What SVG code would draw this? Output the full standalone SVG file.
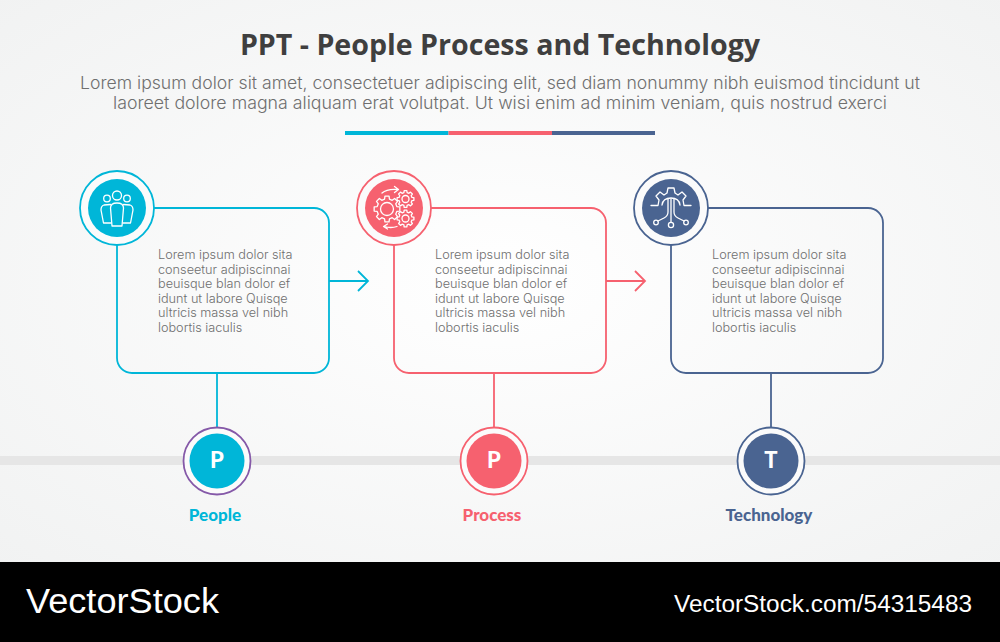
<svg xmlns="http://www.w3.org/2000/svg" width="1000" height="642" viewBox="0 0 1000 642">
<style>
.ttl{font:700 28.600px "Open Sans","Liberation Sans",sans-serif;fill:#3f3f3f;text-anchor:middle}
.sub{font:300 17px Inter,"Open Sans",sans-serif;fill:#6f6f6f;text-anchor:middle}
.body{font:300 12.700px Inter,"Open Sans",sans-serif;fill:#6f6f6f}
.lab{font:900 17px Lato,"Open Sans",sans-serif;text-anchor:middle}
.let{font:900 22px Lato,"Open Sans",sans-serif;fill:#fff;text-anchor:middle}
.wm{font-family:"Liberation Sans",Arimo,sans-serif;fill:#fff}
.box,.ring,.con{fill:none;stroke-width:1.800}
.ring{fill:#fbfbfb}
.ic{fill:none;stroke:#fff;stroke-width:1.300;stroke-linejoin:round;stroke-linecap:round}
.gp{vector-effect:non-scaling-stroke}
</style>
<defs>
<radialGradient id="bg" cx="50%" cy="50%" r="72%"><stop offset="0" stop-color="#ffffff"/><stop offset="1" stop-color="#f1f2f2"/></radialGradient>
<polygon id="gear" class="gp" points=".757,-.189 .988,-.156 .988,.156 .757,.189 .669,.402 .809,.588 .588,.809 .402,.669 .189,.757 .156,.988 -.156,.988 -.189,.757 -.402,.669 -.588,.809 -.809,.588 -.669,.402 -.757,.189 -.988,.156 -.988,-.156 -.757,-.189 -.669,-.402 -.809,-.588 -.588,-.809 -.402,-.669 -.189,-.757 -.156,-.988 .156,-.988 .189,-.757 .402,-.669 .588,-.809 .809,-.588 .669,-.402"/>
</defs>
<rect width="1000" height="562" fill="url(#bg)"/>
<text class="ttl" x="500" y="55">PPT - People Process and Technology</text>
<text class="sub" x="500" y="89" textLength="840" lengthAdjust="spacingAndGlyphs">Lorem ipsum dolor sit amet, consectetuer adipiscing elit, sed diam nonummy nibh euismod tincidunt ut</text>
<text class="sub" x="500" y="109" textLength="774" lengthAdjust="spacingAndGlyphs">laoreet dolore magna aliquam erat volutpat. Ut wisi enim ad minim veniam, quis nostrud exerci</text>
<rect x="345" y="131" width="103.500" height="4" fill="#00b6d8"/>
<rect x="448.500" y="131" width="103.500" height="4" fill="#f6616f"/>
<rect x="552" y="131" width="103" height="4" fill="#4a6491"/>
<rect id="timeline" x="0" y="456" width="1000" height="9" fill="#e6e6e6"/>
<g id="connectors">
<path class="con" stroke="#00b6d8" d="M329 281H367.500M358 271L368 281L358 291"/>
<path class="con" stroke="#f6616f" d="M606 281H644.500M635 271L645 281L635 291"/>
<path class="con" stroke="#00b6d8" d="M217 373V428"/>
<path class="con" stroke="#f6616f" d="M494 373V428"/>
<path class="con" stroke="#4a6491" d="M771 373V428"/>
</g>
<g id="people">
<rect class="box" stroke="#00b6d8" x="117" y="208" width="212" height="165" rx="15"/>
<circle class="ring" stroke="#00b6d8" cx="117" cy="208" r="37"/>
<circle cx="117" cy="208" r="29" fill="#00b6d8"/>
<g class="ic">
<circle cx="117" cy="195.500" r="4.500"/><circle cx="107" cy="198.500" r="3.300"/><circle cx="127" cy="198.500" r="3.300"/>
<path d="M110.500 204.500L104 205Q101 206 101 210L103.500 223H111M123.500 204.500L130 205Q133 206 133 210L130.500 223H123"/>
<path d="M110.500 208Q110.500 203 117 203Q123.500 203 123.500 208L122 226H112Z"/>
</g>
<text class="body" x="158" y="259">Lorem ipsum dolor sita</text>
<text class="body" x="158" y="273.500">conseetur adipiscinnai</text>
<text class="body" x="158" y="288">beuisque blan dolor ef</text>
<text class="body" x="158" y="302.500">idunt ut labore Quisqe</text>
<text class="body" x="158" y="317">ultricis massa vel nibh</text>
<text class="body" x="158" y="331.500">lobortis iaculis</text>
<circle cx="217" cy="461" r="33.500" fill="#fbfbfb" stroke="#8559a8" stroke-width="1.800"/>
<circle cx="217" cy="461" r="27.500" fill="#00b6d8"/>
<text class="let" x="217" y="468">P</text>
<text class="lab" x="215" y="520.500" fill="#00b6d8">People</text>
</g>
<g id="process">
<rect class="box" stroke="#f6616f" x="394" y="208" width="212" height="165" rx="15"/>
<circle class="ring" stroke="#f6616f" cx="394" cy="208" r="37"/>
<circle cx="394" cy="208" r="29" fill="#f6616f"/>
<g class="ic">
<use href="#gear" transform="translate(387 209) scale(13)"/>
<circle cx="387" cy="209" r="6.500"/>
<use href="#gear" transform="translate(405.500 199) scale(8.500)"/>
<circle cx="405.500" cy="199" r="3.500"/>
<use href="#gear" transform="translate(405.500 218.500) scale(8.500)"/>
<circle cx="405.500" cy="218.500" r="3.500"/>
<path d="M382 193Q387 188.500 398 189.500M394.500 186.500L398.500 189.500L394.500 192.500"/>
<path d="M397 226.500Q391 228.500 384 226.500M387.500 224L383.500 226.500L387.500 229"/>
</g>
<text class="body" x="435" y="259">Lorem ipsum dolor sita</text>
<text class="body" x="435" y="273.500">conseetur adipiscinnai</text>
<text class="body" x="435" y="288">beuisque blan dolor ef</text>
<text class="body" x="435" y="302.500">idunt ut labore Quisqe</text>
<text class="body" x="435" y="317">ultricis massa vel nibh</text>
<text class="body" x="435" y="331.500">lobortis iaculis</text>
<circle cx="494" cy="461" r="33.500" fill="#fbfbfb" stroke="#f6616f" stroke-width="1.800"/>
<circle cx="494" cy="461" r="27.500" fill="#f6616f"/>
<text class="let" x="494" y="468">P</text>
<text class="lab" x="492" y="520.500" fill="#f6616f">Process</text>
</g>
<g id="technology">
<rect class="box" stroke="#4a6491" x="671" y="208" width="212" height="165" rx="15"/>
<circle class="ring" stroke="#4a6491" cx="671" cy="208" r="37"/>
<circle cx="671" cy="208" r="29" fill="#4a6491"/>
<g class="ic">
<path d="M651 205.500H658L659 200L656 196L660 192L664 195L667 193L668 188H674L675 193L678 195L682 192L686 196L683 200L684 205.500H691"/>
<path d="M662 205Q663 198 671 198Q679 198 680 205"/>
<path d="M668 199V212Q668 216 664 218L658 221M674 199V212Q674 216 678 218L684 221M671 199V222"/>
<circle cx="656" cy="222.500" r="2.300"/><circle cx="686" cy="222.500" r="2.300"/><circle cx="671" cy="225" r="2.600"/>
</g>
<text class="body" x="712" y="259">Lorem ipsum dolor sita</text>
<text class="body" x="712" y="273.500">conseetur adipiscinnai</text>
<text class="body" x="712" y="288">beuisque blan dolor ef</text>
<text class="body" x="712" y="302.500">idunt ut labore Quisqe</text>
<text class="body" x="712" y="317">ultricis massa vel nibh</text>
<text class="body" x="712" y="331.500">lobortis iaculis</text>
<circle cx="771" cy="461" r="33.500" fill="#fbfbfb" stroke="#4a6491" stroke-width="1.800"/>
<circle cx="771" cy="461" r="27.500" fill="#4a6491"/>
<text class="let" x="771" y="468">T</text>
<text class="lab" x="769" y="520.500" fill="#4a6491">Technology</text>
</g>
<rect y="562" width="1000" height="80" fill="#000"/>
<text class="wm" x="26" y="613" font-size="35" textLength="193" lengthAdjust="spacingAndGlyphs">VectorStock</text>
<text class="wm" x="674" y="612" font-size="23" textLength="298" lengthAdjust="spacingAndGlyphs">VectorStock.com/54315483</text>
</svg>
